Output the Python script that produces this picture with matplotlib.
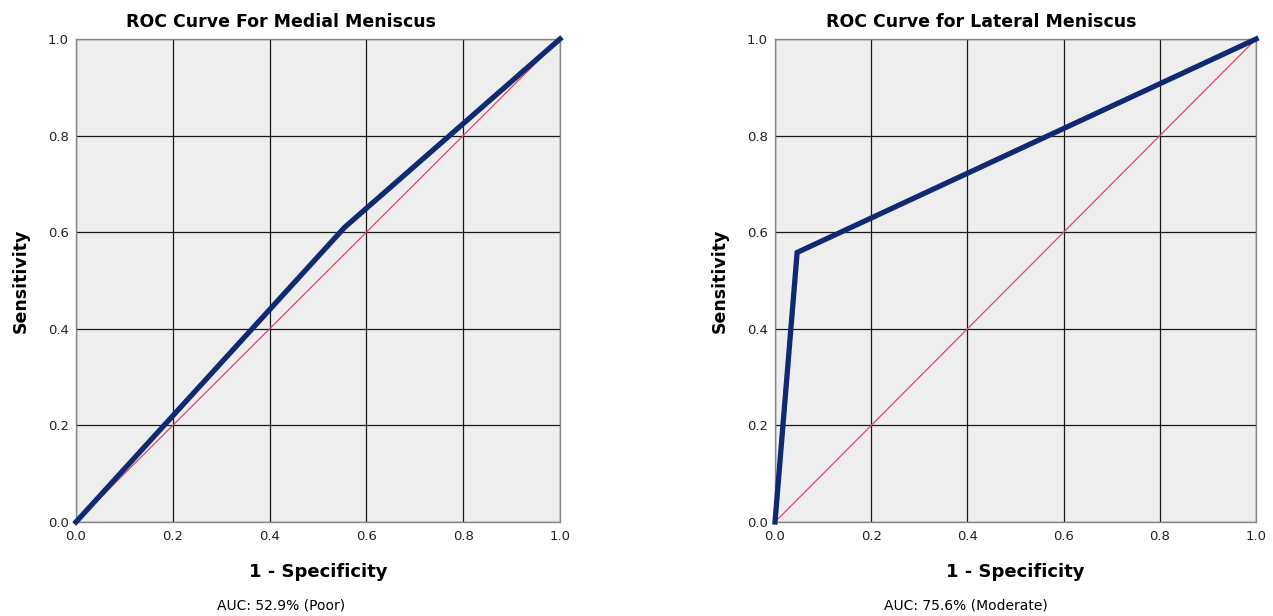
import matplotlib
matplotlib.use('Agg')
import matplotlib.pyplot as plt

# ROC points
medial_fpr = [0.0, 0.555, 1.0]
medial_tpr = [0.0, 0.61, 1.0]
lateral_fpr = [0.0, 0.046, 1.0]
lateral_tpr = [0.0, 0.558, 1.0]

titles = ['ROC Curve For Medial Meniscus', 'ROC Curve for Lateral Meniscus']
auc_labels = ['AUC: 52.9% (Poor)', 'AUC: 75.6% (Moderate)']
ticks = [0.0, 0.2, 0.4, 0.6, 0.8, 1.0]
tick_labels = ['0.0', '0.2', '0.4', '0.6', '0.8', '1.0']

plt.rcParams['font.family'] = ['DejaVu Sans']

fig = plt.figure(figsize=(12.73, 6.16), dpi=100)
positions = [[0.0597, 0.1526, 0.3802, 0.7841],
             [0.6088, 0.1526, 0.3779, 0.7841]]
title_x = [0.424, 0.428]
auc_x = [0.424, 0.397]

curves = [(medial_fpr, medial_tpr), (lateral_fpr, lateral_tpr)]

for i in range(2):
    ax = fig.add_axes(positions[i])
    ax.set_facecolor('#eeeeee')
    ax.set_xlim(0, 1)
    ax.set_ylim(0, 1)
    ax.set_xticks(ticks)
    ax.set_yticks(ticks)
    ax.set_xticklabels(tick_labels, fontsize=9.5)
    ax.set_yticklabels(tick_labels, fontsize=9.5)
    ax.tick_params(axis='x', length=0, pad=6, colors='#222222')
    ax.tick_params(axis='y', length=0, pad=5, colors='#222222')
    ax.grid(True, color='#1a1a1a', linewidth=0.9)
    ax.set_axisbelow(True)
    for s in ax.spines.values():
        s.set_color('#888888')
        s.set_linewidth(1)

    ax.plot([0, 1], [0, 1], color='#e2456a', linewidth=0.9, zorder=3)
    fpr, tpr = curves[i]
    ax.plot(fpr, tpr, color='#0f2a72', linewidth=3.8, solid_joinstyle='miter',
            zorder=4, clip_on=False)

    ax.text(title_x[i], 1.0 + 17 / 483, titles[i], transform=ax.transAxes,
            ha='center', va='center', fontsize=12.5, fontweight='bold')
    ax.set_ylabel('Sensitivity', fontsize=12.5, fontweight='bold', labelpad=13)
    ax.set_xlabel('1 - Specificity', fontsize=13, fontweight='bold', labelpad=14)
    ax.text(auc_x[i], -0.172, auc_labels[i], transform=ax.transAxes,
            ha='center', va='center', fontsize=10)

plt.savefig('out.png', dpi=100)
